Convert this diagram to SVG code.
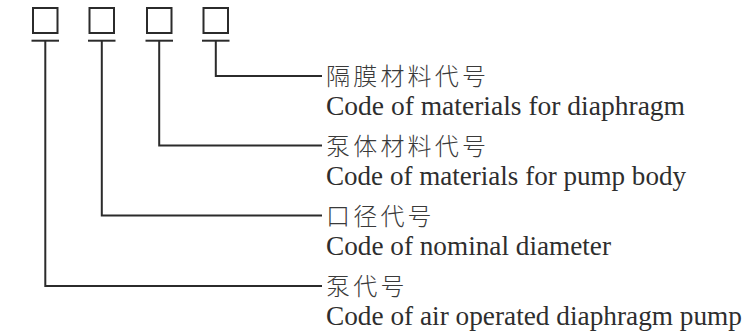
<svg xmlns="http://www.w3.org/2000/svg" width="748" height="333" viewBox="0 0 748 333">
<style>
.box{fill:none;stroke:#2b2b2b;stroke-width:2}
.ln{fill:none;stroke:#2b2b2b;stroke-width:2}
.cn{font-family:"Noto Sans CJK SC","Noto Sans CJK TC",sans-serif;font-size:24px;letter-spacing:3.2px;fill:#3a3a3a;font-weight:300}
.en{font-family:"Liberation Serif","Times New Roman",serif;font-size:27px;fill:#2e2e2e}
</style>
<rect width="748" height="333" fill="#ffffff"/>
<g id="box1"><rect class="box" x="33" y="8" width="24.5" height="25"/><line class="ln" x1="31.5" y1="40.7" x2="59" y2="40.7"/></g>
<g id="box2"><rect class="box" x="89.5" y="8" width="24.5" height="25"/><line class="ln" x1="88" y1="40.7" x2="115.5" y2="40.7"/></g>
<g id="box3"><rect class="box" x="147" y="8" width="24.5" height="25"/><line class="ln" x1="145.5" y1="40.7" x2="173" y2="40.7"/></g>
<g id="box4"><rect class="box" x="203.5" y="8" width="24.5" height="25"/><line class="ln" x1="202" y1="40.7" x2="229.5" y2="40.7"/></g>
<g id="connectors">
<polyline class="ln" points="215.8,40.7 215.8,76 322,76"/>
<polyline class="ln" points="159.2,40.7 159.2,145.5 322,145.5"/>
<polyline class="ln" points="101.8,40.7 101.8,215.5 322,215.5"/>
<polyline class="ln" points="45.3,40.7 45.3,286 322,286"/>
</g>
<g id="label-diaphragm">
<text class="cn" x="326" y="85">隔膜材料代号</text>
<text class="en" x="326" y="115" textLength="359" lengthAdjust="spacingAndGlyphs">Code of materials for diaphragm</text>
</g>
<g id="label-body">
<text class="cn" x="326" y="154.5">泵体材料代号</text>
<text class="en" x="326" y="184.5" textLength="360" lengthAdjust="spacingAndGlyphs">Code of materials for pump body</text>
</g>
<g id="label-diameter">
<text class="cn" x="326" y="224.5">口径代号</text>
<text class="en" x="326" y="255" textLength="285" lengthAdjust="spacingAndGlyphs">Code of nominal diameter</text>
</g>
<g id="label-pump">
<text class="cn" x="326" y="295">泵代号</text>
<text class="en" x="326" y="325" textLength="416" lengthAdjust="spacingAndGlyphs">Code of air operated diaphragm pump</text>
</g>
</svg>
